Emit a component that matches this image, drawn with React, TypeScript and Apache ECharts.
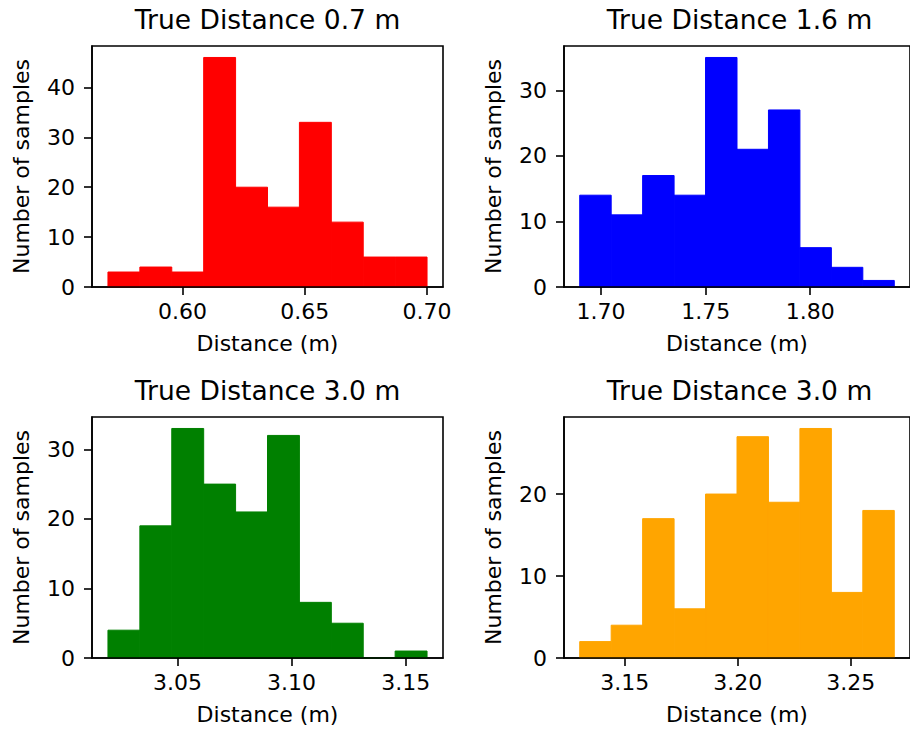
import React, { useEffect, useRef } from "react";
import * as echarts from "echarts";

const titles = ["True Distance 0.7 m", "True Distance 1.6 m", "True Distance 3.0 m", "True Distance 3.0 m"];
const colors = ["#ff0000", "#0000ff", "#008000", "#ffa500"];

const countsA = [3, 4, 3, 46, 20, 16, 33, 13, 6, 6];
const countsB = [14, 11, 17, 14, 35, 21, 27, 6, 3, 1];
const countsC = [4, 19, 33, 25, 21, 32, 8, 5, 0, 1];
const countsD = [2, 4, 17, 6, 20, 27, 19, 28, 8, 18];

// histogram range (first edge, last edge) of each panel
const rangeA = [0.5695, 0.7];
const rangeB = [1.6898, 1.8402];
const rangeC = [3.0196, 3.1593];
const rangeD = [3.1301, 3.2692];

const xTicksA = [0.6, 0.65, 0.7];
const xTicksB = [1.7, 1.75, 1.8];
const xTicksC = [3.05, 3.1, 3.15];
const xTicksD = [3.15, 3.2, 3.25];

const yTicksA = [0, 10, 20, 30, 40];
const yTicksB = [0, 10, 20, 30];
const yTicksC = [0, 10, 20, 30];
const yTicksD = [0, 10, 20];

const xLabel = "Distance (m)";
const yLabel = "Number of samples";

const panels = [
  { counts: countsA, range: rangeA, xTicks: xTicksA, yTicks: yTicksA },
  { counts: countsB, range: rangeB, xTicks: xTicksB, yTicks: yTicksB },
  { counts: countsC, range: rangeC, xTicks: xTicksC, yTicks: yTicksC },
  { counts: countsD, range: rangeD, xTicks: xTicksD, yTicks: yTicksD },
];

const gridPos = [
  { left: 92, top: 46 },
  { left: 564, top: 46 },
  { left: 92, top: 417 },
  { left: 564, top: 417 },
];
const GW = 351;
const GH = 241;
const FONT = "'DejaVu Sans', sans-serif";

export default function App() {
  const ref = useRef<HTMLDivElement>(null);
  useEffect(() => {
    if (!ref.current) return;
    const chart = echarts.init(ref.current, null, { renderer: "svg" });

    const grid: any[] = [];
    const xAxis: any[] = [];
    const yAxis: any[] = [];
    const series: any[] = [];
    const graphic: any[] = [];

    panels.forEach((p, i) => {
      const lo = p.range[0];
      const hi = p.range[1];
      const n = p.counts.length;
      const w = (hi - lo) / n;
      const data = p.counts.map((c, k) => [lo + k * w, lo + (k + 1) * w, c]);
      const span = hi - lo;
      const xmin = lo - 0.05 * span;
      const xmax = hi + 0.05 * span;
      const ymax = Math.max(...p.counts) * 1.05;

      grid.push({
        left: gridPos[i].left,
        top: gridPos[i].top,
        width: GW,
        height: GH,
        show: true,
        borderColor: "#000",
        borderWidth: 1.6,
        backgroundColor: "transparent",
        containLabel: false,
      });
      xAxis.push({
        type: "value",
        gridIndex: i,
        min: xmin,
        max: xmax,
        z: 5,
        splitLine: { show: false },
        axisLine: { show: true, onZero: false, lineStyle: { color: "#000", width: 1.6 } },
        axisTick: { show: true, length: 8, customValues: p.xTicks, lineStyle: { color: "#000", width: 1.6 } },
        axisLabel: {
          customValues: p.xTicks,
          margin: 13,
          color: "#000",
          fontFamily: FONT,
          fontSize: 22,
          formatter: (v: number) => v.toFixed(2),
        },
        name: xLabel,
        nameLocation: "middle",
        nameGap: 45,
        nameTextStyle: { color: "#000", fontFamily: FONT, fontSize: 22, verticalAlign: "top" },
      });
      yAxis.push({
        type: "value",
        gridIndex: i,
        min: 0,
        max: ymax,
        z: 5,
        splitLine: { show: false },
        axisLine: { show: true, lineStyle: { color: "#000", width: 1.6 } },
        axisTick: { show: true, length: 8, customValues: p.yTicks, lineStyle: { color: "#000", width: 1.6 } },
        axisLabel: {
          customValues: p.yTicks,
          margin: 17,
          color: "#000",
          fontFamily: FONT,
          fontSize: 22,
        },
        name: yLabel,
        nameLocation: "middle",
        nameGap: 60,
        nameTextStyle: { color: "#000", fontFamily: FONT, fontSize: 22 },
      });
      const color = colors[i];
      series.push({
        type: "custom",
        xAxisIndex: i,
        yAxisIndex: i,
        z: 2,
        encode: { x: [0, 1], y: 2 },
        data,
        renderItem: (params: any, api: any) => {
          const p0 = api.coord([api.value(0), api.value(2)]);
          const p1 = api.coord([api.value(1), 0]);
          return {
            type: "rect",
            shape: { x: p0[0], y: p0[1], width: p1[0] - p0[0], height: p1[1] - p0[1] },
            style: { fill: color, stroke: color, lineWidth: 1 },
          };
        },
      });
      graphic.push({
        type: "text",
        x: gridPos[i].left + GW / 2,
        y: gridPos[i].top - 27,
        style: {
          text: titles[i],
          fill: "#000",
          font: `26.5px ${FONT}`,
          textAlign: "center",
          textVerticalAlign: "middle",
        },
      });
    });

    chart.setOption({
      animation: false,
      backgroundColor: "#fff",
      grid,
      xAxis,
      yAxis,
      series,
      graphic,
    });
    return () => chart.dispose();
  }, []);
  return (
    <div
      ref={ref}
      style={{ position: "fixed", left: 0, top: 0, width: 910, height: 733 }}
    />
  );
}
